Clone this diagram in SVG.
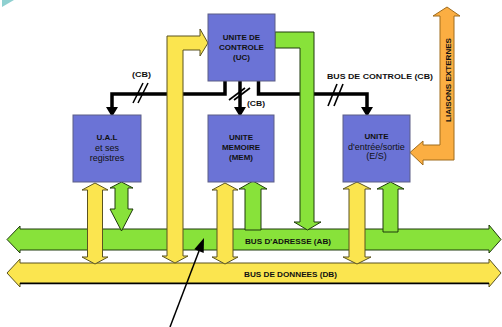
<svg xmlns="http://www.w3.org/2000/svg" width="502" height="327" viewBox="0 0 502 327">
<defs>
<style>
.box{fill:#6b73d6;stroke:#5c5e86;stroke-width:1}
.t{font-family:"Liberation Sans",Arial,sans-serif;font-size:8px;font-weight:bold;fill:#111;text-anchor:middle}
.tn{font-family:"Liberation Sans",Arial,sans-serif;font-size:9px;fill:#111;text-anchor:middle}
.lbl{font-family:"Liberation Sans",Arial,sans-serif;font-size:7.5px;font-weight:bold;fill:#111}
.y{fill:#fbe54f;stroke:#5a5320;stroke-width:1}
.g{fill:#88e23a;stroke:#1f3a0c;stroke-width:1}
.o{fill:#fbae42;stroke:#a06c1c;stroke-width:1}
.cb{fill:none;stroke:#000;stroke-width:3.5}
.sl{stroke:#000;stroke-width:1.6}
</style>
</defs>
<polygon points="2,0 14,0 2,7" fill="#8fd0d0"/>

<g id="bus-db">
<polygon class="y" points="20,263 489,263 489,259 501,273 489,287 489,283 20,283 20,287 7,273 20,259"/>
<line x1="20" y1="283.5" x2="489" y2="283.5" stroke="#000" stroke-width="1.5"/>
<text class="lbl" x="244" y="277" textLength="93" lengthAdjust="spacingAndGlyphs">BUS DE DONNEES (DB)</text>
</g>
<g id="bus-ab">
<polygon class="g" points="20,229 489,229 489,225 501,239.5 489,253 489,250 20,250 20,253 7,239.5 20,226" stroke="#000"/>
<text class="lbl" x="245" y="244" textLength="86" lengthAdjust="spacingAndGlyphs">BUS D'ADRESSE (AB)</text>
</g>

<g id="connectors">
<path class="cb" d="M225,81 V94 H112 V108"/>
<path class="cb" d="M258.5,81 V94 H367 V108"/>
<path class="cb" d="M240,81 V108"/>
<polygon points="106,107 118,107 112,117" fill="#000"/>
<polygon points="234,107 246,107 240,117" fill="#000"/>
<polygon points="361,107 373,107 367,117" fill="#000"/>
<line class="sl" x1="133" y1="103" x2="143" y2="83"/>
<line class="sl" x1="138" y1="103" x2="148" y2="83"/>
<line class="sl" x1="229" y1="100" x2="245" y2="88"/>
<line class="sl" x1="234" y1="100" x2="250" y2="88"/>
<line class="sl" x1="328" y1="106" x2="337" y2="84"/>
<line class="sl" x1="334" y1="106" x2="343" y2="84"/>
<text class="lbl" x="132" y="77" textLength="19" lengthAdjust="spacingAndGlyphs" font-size="7">(CB)</text>
<text class="lbl" x="247" y="106" textLength="18" lengthAdjust="spacingAndGlyphs" font-size="7">(CB)</text>
<text class="lbl" x="327" y="79" textLength="106" lengthAdjust="spacingAndGlyphs">BUS DE CONTROLE (CB)</text>

<polygon class="y" stroke="#000" points="167,36 200,36 200,29 208,43 200,56 200,50 183,50 183,256 188,256 175,263 162,256 167,256"/>
<polygon class="g" stroke="#000" points="275,32 314,32 314,222 321,222 307.5,230 294,222 300,222 300,48 275,48"/>

<polygon class="y" points="95,183 108,190 102.5,190 102.5,257 108,257 95,264 82,257 87.5,257 87.5,190 82,190"/>
<polygon class="g" points="121.5,182 133,188 128,188 128,209 133,209 121.5,231 110,209 115,209 115,188 110,188"/>
<polygon class="y" points="225,183 238,190 233,190 233,257 238,257 225,264 212,257 217,257 217,190 212,190"/>
<polygon class="g" points="253,181 267,189 261,189 261,230 245,230 245,189 239,189"/>
<polygon class="y" points="357,182 371,189 365,189 365,257 371,257 357,264 343,257 349,257 349,189 343,189"/>
<polygon class="g" points="390.5,182 404,189 398,189 398,232 383,232 383,189 377,189"/>

<line x1="170" y1="327" x2="199" y2="251" stroke="#000" stroke-width="1.5"/>
<polygon points="204,238 194.3,249.3 203.7,252.9" fill="#000"/>
</g>

<g id="liaisons">
<polygon class="o" points="447,7 460,16 454,16 454,160 423,160 423,165 410,152.5 423,141 423,145 440,145 440,16 433,16"/>
<text class="t" transform="translate(450.5,80) rotate(-90)" textLength="84" lengthAdjust="spacingAndGlyphs">LIAISONS EXTERNES</text>
</g>

<g id="uc">
<rect class="box" x="208" y="14" width="67" height="67"/>
<text class="t" x="241.5" y="40">UNITE DE</text>
<text class="t" x="241.5" y="50">CONTROLE</text>
<text class="t" x="241.5" y="60">(UC)</text>
</g>
<g id="ual">
<rect class="box" x="73" y="115" width="68" height="67"/>
<text class="t" x="107" y="140" font-size="8.5">U.A.L</text>
<text class="tn" x="107" y="151">et ses</text>
<text class="tn" x="107" y="161">registres</text>
</g>
<g id="mem">
<rect class="box" x="208" y="115" width="66" height="67"/>
<text class="t" x="241" y="139.5">UNITE</text>
<text class="t" x="241" y="150">MEMOIRE</text>
<text class="t" x="241" y="160">(MEM)</text>
</g>
<g id="es">
<rect class="box" x="343" y="115" width="67" height="67"/>
<text class="t" x="376.5" y="139">UNITE</text>
<text class="tn" x="376.5" y="149.5">d'entrée/sortie</text>
<text class="tn" x="376.5" y="159">(E/S)</text>
</g>
</svg>
